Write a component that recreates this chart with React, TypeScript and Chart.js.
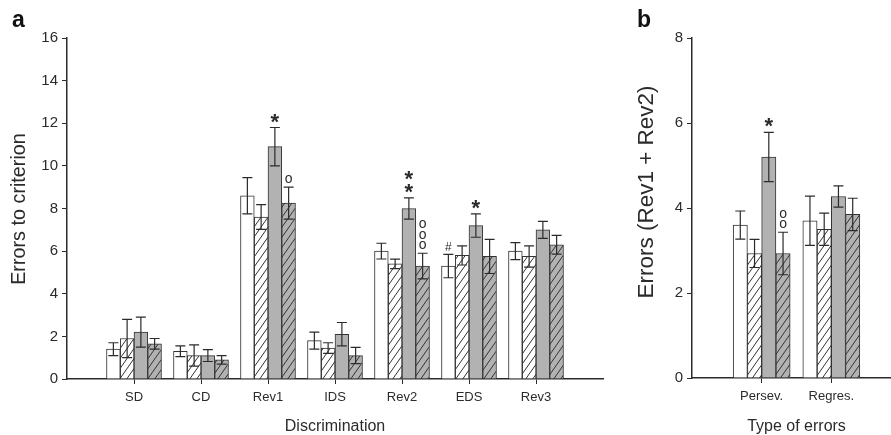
import React, { useEffect, useRef } from 'react';
import { Chart, registerables } from 'chart.js';

Chart.register(...registerables);

// ---------- data ----------
const seriesNames = ['Group 1', 'Group 2', 'Group 3', 'Group 4'];

// Panel a
const categoriesA = ['SD', 'CD', 'Rev1', 'IDS', 'Rev2', 'EDS', 'Rev3'];
const meansA1 = [1.4, 1.3, 8.6, 1.8, 6.0, 5.3, 6.0];
const meansA2 = [1.9, 1.1, 7.6, 1.45, 5.4, 5.8, 5.75];
const meansA3 = [2.2, 1.1, 10.9, 2.1, 8.0, 7.2, 7.0];
const meansA4 = [1.65, 0.9, 8.25, 1.1, 5.3, 5.75, 6.3];
const errA1 = [0.3, 0.25, 0.85, 0.4, 0.37, 0.55, 0.4];
const errA2 = [0.9, 0.5, 0.58, 0.25, 0.22, 0.45, 0.5];
const errA3 = [0.7, 0.28, 0.9, 0.55, 0.5, 0.55, 0.4];
const errA4 = [0.25, 0.2, 0.75, 0.38, 0.6, 0.8, 0.44];
const yTicksA = { min: 0, max: 16, step: 2 };
const marksA = [
  { cat: 'Rev1', series: 2, text: '*', count: 1 },
  { cat: 'Rev1', series: 3, text: 'o', count: 1 },
  { cat: 'Rev2', series: 2, text: '*', count: 2 },
  { cat: 'Rev2', series: 3, text: 'o', count: 3 },
  { cat: 'EDS', series: 0, text: '#', count: 1 },
  { cat: 'EDS', series: 2, text: '*', count: 1 },
];

// Panel b
const categoriesB = ['Persev.', 'Regres.'];
const meansB1 = [3.6, 3.7];
const meansB2 = [2.93, 3.5];
const meansB3 = [5.2, 4.27];
const meansB4 = [2.93, 3.85];
const errB1 = [0.33, 0.58];
const errB2 = [0.33, 0.38];
const errB3 = [0.58, 0.25];
const errB4 = [0.5, 0.38];
const yTicksB = { min: 0, max: 8, step: 2 };
const marksB = [
  { cat: 'Persev.', series: 2, text: '*', count: 1 },
  { cat: 'Persev.', series: 3, text: 'o', count: 2 },
];

// ---------- styling ----------
const FONT = "'Liberation Sans', Arial, Helvetica, sans-serif";
const INK = '#2b2b2b';
const GRAY = '#b2b2b2';

function makeHatch(bg: string): CanvasPattern | string {
  const w = 7, h = 10;
  const c = document.createElement('canvas');
  c.width = w; c.height = h;
  const g = c.getContext('2d');
  if (!g) return bg;
  g.fillStyle = bg;
  g.fillRect(0, 0, w, h);
  g.strokeStyle = '#333';
  g.lineWidth = 1;
  for (const off of [-w, 0, w]) {
    g.beginPath();
    g.moveTo(off - 1, h + h / w);
    g.lineTo(off + w + 1, -h / w);
    g.stroke();
  }
  return g.createPattern(c, 'repeat') || bg;
}

type Mark = { cat: string; series: number; text: string; count: number };

type PanelCfg = {
  cats: string[];
  means: number[][];
  errs: number[][];
  marks: Mark[];
  yt: { min: number; max: number; step: number };
  xMax: number;
  letter: string;
  xTitle: string;
  yTitle: string;
  yTitleSize: number;
  yTitleX: number;
  yTitleY: number;
  barW: number;
  padRight: number;
  bottom: number;
  height: number;
};

function overlayPlugin(p: PanelCfg) {
  return {
    id: 'overlay',
    afterDatasetsDraw(chart: any) {
      const ctx: CanvasRenderingContext2D = chart.ctx;
      const ys = chart.scales.y;
      ctx.save();
      ctx.strokeStyle = INK;
      ctx.lineWidth = 1.2;
      const cap = 5;
      const tops: Record<string, { x: number; y: number }> = {};
      chart.data.datasets.forEach((ds: any, di: number) => {
        const meta = chart.getDatasetMeta(di);
        meta.data.forEach((bar: any, i: number) => {
          const v = ds.data[i].y;
          const e = p.errs[di][i];
          const yt = ys.getPixelForValue(v + e);
          const yb = ys.getPixelForValue(v - e);
          const x = bar.x;
          ctx.beginPath();
          ctx.moveTo(x, yt); ctx.lineTo(x, yb);
          ctx.moveTo(x - cap, yt); ctx.lineTo(x + cap, yt);
          ctx.moveTo(x - cap, yb); ctx.lineTo(x + cap, yb);
          ctx.stroke();
          tops[p.cats[i] + '|' + di] = { x, y: yt };
        });
      });
      ctx.fillStyle = INK;
      ctx.textAlign = 'center';
      ctx.textBaseline = 'alphabetic';
      p.marks.forEach((m) => {
        const t = tops[m.cat + '|' + m.series];
        if (!t) return;
        let font = '14px ' + FONT, first = 8, step = 10.5;
        if (m.text === '*') { font = 'bold 22px ' + FONT; first = 9.5; step = 12.5; }
        if (m.text === '#') { font = '12px ' + FONT; first = 8; step = 10; }
        ctx.font = font;
        const mt = ctx.measureText(m.text);
        const asc = mt.actualBoundingBoxAscent, desc = mt.actualBoundingBoxDescent;
        for (let k = 0; k < m.count; k++) {
          const cy = t.y - first - k * step;
          ctx.fillText(m.text, t.x, cy + (asc - desc) / 2);
        }
      });
      ctx.restore();
    },
    afterDraw(chart: any) {
      const ctx: CanvasRenderingContext2D = chart.ctx;
      ctx.save();
      ctx.fillStyle = '#111';
      ctx.font = 'bold 23px ' + FONT;
      ctx.textAlign = 'left';
      ctx.textBaseline = 'alphabetic';
      ctx.fillText(p.letter, 12, 27);
      // rotated y-axis title
      ctx.fillStyle = INK;
      ctx.font = p.yTitleSize + 'px ' + FONT;
      ctx.textAlign = 'center';
      ctx.textBaseline = 'middle';
      ctx.translate(p.yTitleX, p.yTitleY);
      ctx.rotate(-Math.PI / 2);
      ctx.fillText(p.yTitle, 0, 0);
      ctx.restore();
    },
  };
}

function makeConfig(p: PanelCfg) {
  const fills = ['#ffffff', makeHatch('#ffffff'), GRAY, makeHatch(GRAY)];
  return {
    type: 'bar',
    data: {
      datasets: p.means.map((vals, si) => ({
        label: seriesNames[si],
        data: vals.map((v, i) => ({ x: i + 1, y: v })),
        backgroundColor: fills[si],
        borderColor: '#333',
        borderWidth: 1,
        barThickness: p.barW,
      })),
    },
    options: {
      responsive: false,
      animation: false,
      layout: { padding: { left: 0, right: p.padRight, top: 38, bottom: 0 } },
      plugins: { legend: { display: false }, tooltip: { enabled: false } },
      scales: {
        x: {
          type: 'linear',
          min: 0,
          max: p.xMax,
          offset: false,
          afterBuildTicks: (s: any) => { s.ticks = p.cats.map((_, i) => ({ value: i + 1 })); },
          afterFit: (s: any) => { s.height = p.height - p.bottom; },
          ticks: {
            callback: (v: any) => p.cats[Number(v) - 1] ?? '',
            autoSkip: false,
            maxRotation: 0,
            padding: 6,
            color: INK,
            font: { size: 13, family: FONT },
          },
          grid: { drawOnChartArea: false, offset: false, tickLength: 5, color: INK, tickColor: INK, lineWidth: 1 },
          border: { color: INK, width: 1.5 },
          title: { display: true, text: p.xTitle, color: INK, font: { size: 16, family: FONT, lineHeight: 1 }, padding: { top: 0, bottom: 0 } },
        },
        y: {
          min: p.yt.min,
          max: p.yt.max,
          afterFit: (s: any) => { s.width = 67; },
          ticks: { stepSize: p.yt.step, padding: 4, color: INK, font: { size: 15, family: FONT } },
          grid: { drawOnChartArea: false, tickLength: 5, color: INK, tickColor: INK, lineWidth: 1 },
          border: { color: INK, width: 1.5 },
          title: { display: false },
        },
      },
    },
    plugins: [overlayPlugin(p)],
  };
}

function Panel({ cfg, left, width }: { cfg: PanelCfg; left: number; width: number }) {
  const ref = useRef<HTMLCanvasElement | null>(null);
  useEffect(() => {
    if (!ref.current) return;
    const chart = new Chart(ref.current, makeConfig(cfg) as any);
    return () => chart.destroy();
  }, []);
  return (
    <canvas
      ref={ref}
      width={width}
      height={cfg.height}
      style={{ position: 'absolute', left, top: 0, width, height: cfg.height }}
    />
  );
}

const panelA: PanelCfg = {
  cats: categoriesA,
  means: [meansA1, meansA2, meansA3, meansA4],
  errs: [errA1, errA2, errA3, errA4],
  marks: marksA,
  yt: yTicksA,
  xMax: 8,
  letter: 'a',
  xTitle: 'Discrimination',
  yTitle: 'Errors to criterion',
  yTitleSize: 19.8,
  yTitleX: 20,
  yTitleY: 209,
  barW: 13.75,
  padRight: 22,
  bottom: 379,
  height: 435,
};

const panelB: PanelCfg = {
  cats: categoriesB,
  means: [meansB1, meansB2, meansB3, meansB4],
  errs: [errB1, errB2, errB3, errB4],
  marks: marksB,
  yt: yTicksB,
  xMax: 3,
  letter: 'b',
  xTitle: 'Type of errors',
  yTitle: 'Errors (Rev1 + Rev2)',
  yTitleSize: 22.5,
  yTitleX: 22,
  yTitleY: 192,
  barW: 14.25,
  padRight: 4,
  bottom: 378,
  height: 435,
};

export default function App() {
  return (
    <div style={{ position: 'fixed', left: 0, top: 0, width: 891, height: 435, overflow: 'hidden', background: '#fff' }}>
      <Panel cfg={panelA} left={0} width={625} />
      <Panel cfg={panelB} left={625} width={280} />
    </div>
  );
}
